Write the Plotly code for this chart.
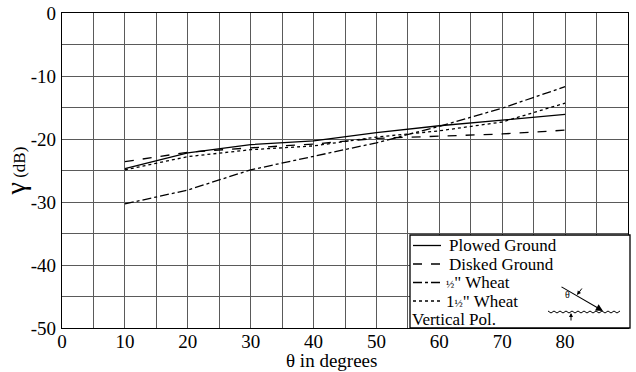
import plotly.graph_objects as go

theta = [10, 20, 30, 40, 50, 60, 70, 80]
plowed = [-24.7, -22.2, -20.9, -20.3, -19.0, -17.9, -17.0, -16.1]
disked = [-23.6, -22.1, -21.4, -20.8, -19.9, -19.6, -19.2, -18.6]
wheat_half = [-30.3, -28.1, -24.9, -22.8, -20.6, -18.0, -15.1, -11.7]
wheat_1half = [-24.9, -22.8, -21.7, -21.1, -19.7, -18.7, -17.3, -14.3]

series_names = ["Plowed Ground", "Disked Ground",
                "<span style='font-size:11px'>½</span>\" Wheat",
                "1<span style='font-size:11px'>½</span>\" Wheat"]
series_vals = [plowed, disked, wheat_half, wheat_1half]
series_dash = ["solid", "dash", "dashdot", "dot"]

x_ticks = [0, 10, 20, 30, 40, 50, 60, 70, 80, 90]
y_ticks = [0, -10, -20, -30, -40, -50]
y_ticktext = ["0", "-10", "-20", "-30", "-40", "-50"]

W, H = 636, 372
ML, MR, MT, MB = 62, 8, 13, 44
PW, PH = W - ML - MR, H - MT - MB


def px(x):
    return (x - ML) / PW


def py(y):
    return (H - MB - y) / PH


font = "Liberation Serif"
grid = "#5a5a5a"
FS = 19
LFS = 17

fig = go.Figure()
for name, vals, dash in zip(series_names, series_vals, series_dash):
    fig.add_trace(go.Scatter(x=theta, y=vals, mode="lines", name=name,
                             line=dict(color="black", width=1.3, dash=dash)))

shapes = []
annotations = []
# legend box
shapes.append(dict(type="rect", xref="paper", yref="paper",
                   x0=px(410), x1=px(630), y0=py(328), y1=py(235),
                   fillcolor="white", line=dict(color="black", width=1.3), layer="above"))
row_y = [245.5, 264, 282.5, 301]
text_x = [448, 448, 445, 445]
for name, dash, ry, tx in zip(series_names, series_dash, row_y, text_x):
    shapes.append(dict(type="line", xref="paper", yref="paper",
                       x0=px(413), x1=px(441), y0=py(ry), y1=py(ry),
                       line=dict(color="black", width=1.3, dash=dash), layer="above"))
    annotations.append(dict(xref="paper", yref="paper", x=px(tx), y=py(ry), text=name,
                            showarrow=False, xanchor="left", yanchor="middle", borderpad=0,
                            font=dict(family=font, size=LFS, color="black")))
annotations.append(dict(xref="paper", yref="paper", x=px(411), y=py(319), text="Vertical Pol.",
                        showarrow=False, xanchor="left", yanchor="middle", borderpad=0,
                        font=dict(family=font, size=LFS, color="black")))
# x-axis title
annotations.append(dict(xref="paper", yref="paper", x=px(331), y=py(360), text="θ in degrees",
                        showarrow=False, xanchor="center", yanchor="middle",
                        font=dict(family=font, size=FS, color="black")))

# wavy surface line
pts = []
n = 24
for i in range(n + 1):
    xx = 548 + i * (620 - 548) / n
    yy = 312 + (1.0 if i % 2 else -1.0)
    pts.append((px(xx), py(yy)))
path = "M " + " L ".join(f"{a},{b}" for a, b in pts)
shapes.append(dict(type="path", xref="paper", yref="paper", path=path,
                   line=dict(color="black", width=1), layer="above"))

annotations += [
    dict(xref="paper", yref="paper", x=px(603), y=py(311), ax=-43, ay=-25,
         text="", showarrow=True, arrowhead=2, arrowsize=1.3, arrowwidth=1.1, arrowcolor="black"),
    dict(xref="paper", yref="paper", x=px(577), y=py(295), ax=6, ay=-8,
         text="", showarrow=True, arrowhead=2, arrowsize=0.8, arrowwidth=1, arrowcolor="black"),
    dict(xref="paper", yref="paper", x=px(571), y=py(313), ax=0, ay=9,
         text="", showarrow=True, arrowhead=2, arrowsize=0.8, arrowwidth=1, arrowcolor="black"),
    dict(xref="paper", yref="paper", x=px(572), y=py(302), text="θ",
         showarrow=False, font=dict(family=font, size=10, color="black")),
]

fig.update_layout(
    width=W, height=H,
    margin=dict(l=ML, r=MR, t=MT, b=MB, autoexpand=False),
    paper_bgcolor="white", plot_bgcolor="white",
    font=dict(family=font, size=FS, color="black"),
    showlegend=False,
    shapes=shapes,
    annotations=annotations,
    xaxis=dict(range=[0, 90], tickvals=x_ticks, ticks="", showgrid=True,
               gridcolor=grid, gridwidth=1.2, automargin=False,
               tickfont=dict(family=font, size=FS),
               minor=dict(dtick=5, showgrid=True, gridcolor=grid, gridwidth=1.2),
               showline=True, linecolor="black", linewidth=1.3, mirror=True,
               zeroline=False, ticklabelstandoff=-4),
    yaxis=dict(range=[-50, 0], tickvals=y_ticks, ticktext=y_ticktext, ticks="",
               showgrid=True, gridcolor=grid, gridwidth=1.2, automargin=False,
               tickfont=dict(family=font, size=FS),
               minor=dict(dtick=5, showgrid=True, gridcolor=grid, gridwidth=1.2),
               showline=True, linecolor="black", linewidth=1.3, mirror=True,
               zeroline=False, ticklabelstandoff=1,
               title=dict(text="<span style='font-size:28px'>γ</span> (dB)", standoff=4,
                          font=dict(family=font, size=17))),
)

fig.write_html("out.html")
